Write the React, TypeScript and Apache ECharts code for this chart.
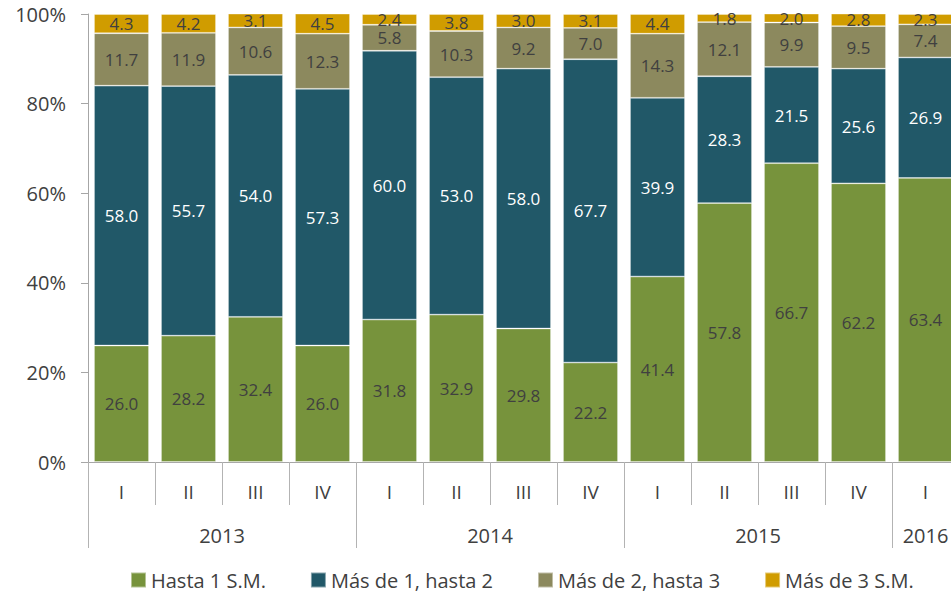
import React, { useEffect, useRef } from "react";
import * as echarts from "echarts";

const quarters = ["I", "II", "III", "IV", "I", "II", "III", "IV", "I", "II", "III", "IV", "I"];
const years = ["2013", "2014", "2015", "2016"];
const yearQuarterCounts = [4, 4, 4, 1];

const seriesNames = ["Hasta 1 S.M.", "Más de 1, hasta 2", "Más de 2, hasta 3", "Más de 3 S.M."];
const hasta1 = [26.0, 28.2, 32.4, 26.0, 31.8, 32.9, 29.8, 22.2, 41.4, 57.8, 66.7, 62.2, 63.4];
const mas1hasta2 = [58.0, 55.7, 54.0, 57.3, 60.0, 53.0, 58.0, 67.7, 39.9, 28.3, 21.5, 25.6, 26.9];
const mas2hasta3 = [11.7, 11.9, 10.6, 12.3, 5.8, 10.3, 9.2, 7.0, 14.3, 12.1, 9.9, 9.5, 7.4];
const mas3 = [4.3, 4.2, 3.1, 4.5, 2.4, 3.8, 3.0, 3.1, 4.4, 1.8, 2.0, 2.8, 2.3];

const yTicks = [0, 20, 40, 60, 80, 100];

const colors = ["#77933C", "#215868", "#8C895E", "#D09C00"];
const labelColors = ["#404040", "#ffffff", "#404040", "#404040"];
const FONT = "'Open Sans', sans-serif";

export default function App() {
  const ref = useRef<HTMLDivElement>(null);
  useEffect(() => {
    if (!ref.current) return;
    const chart = echarts.init(ref.current, undefined, { renderer: "svg" });
    const yearStarts: number[] = [];
    const yearCenters: number[] = [];
    let acc = 0;
    yearQuarterCounts.forEach((c) => {
      yearStarts.push(acc);
      yearCenters.push(acc + c / 2);
      acc += c;
    });
    const data = [hasta1, mas1hasta2, mas2hasta3, mas3];
    chart.setOption({
      animation: false,
      textStyle: { fontFamily: FONT },
      grid: { left: 88, right: 11, top: 14, bottom: 130, containLabel: false },
      legend: {
        data: seriesNames,
        left: 125,
        top: 565,
        icon: "rect",
        itemWidth: 15,
        itemHeight: 15,
        itemGap: 44,
        textStyle: { fontSize: 20, color: "#404040", fontFamily: FONT },
      },
      xAxis: [
        {
          type: "category",
          data: quarters,
          position: "bottom",
          axisLine: { show: true, lineStyle: { color: "#a6a6a6", width: 1 } },
          axisTick: { show: true, interval: 0, length: 43, lineStyle: { color: "#b3b3b3" } },
          axisLabel: { interval: 0, margin: 20, fontSize: 19, color: "#404040", fontFamily: FONT },
        },
        {
          type: "value",
          min: 0,
          max: quarters.length,
          position: "bottom",
          axisLine: { show: false },
          splitLine: { show: false },
          axisTick: {
            show: true,
            customValues: yearStarts,
            length: 86,
            lineStyle: { color: "#b3b3b3" },
          },
          axisLabel: {
            customValues: yearCenters,
            margin: 63,
            fontSize: 20,
            color: "#404040",
            fontFamily: FONT,
            formatter: (v: number) => {
              const i = yearCenters.findIndex((c) => Math.abs(c - v) < 1e-6);
              return i >= 0 ? years[i] : "";
            },
          },
        },
      ],
      yAxis: {
        type: "value",
        min: 0,
        max: 100,
        interval: 20,
        axisLine: { show: true, lineStyle: { color: "#a6a6a6" } },
        axisTick: { show: true, length: 7, lineStyle: { color: "#a6a6a6" } },
        splitLine: { show: false },
        axisLabel: {
          formatter: (v: number) => (yTicks.includes(v) ? v + "%" : ""),
          fontSize: 20,
          color: "#404040",
          margin: 22,
          fontFamily: FONT,
        },
      },
      series: data.map((d, i) => ({
        name: seriesNames[i],
        type: "bar",
        stack: "total",
        xAxisIndex: 0,
        barCategoryGap: "18%",
        data: d,
        itemStyle: { color: colors[i], borderColor: "rgba(255,255,255,0.45)", borderWidth: 0.8 },
        label: {
          show: true,
          position: "inside",
          formatter: (p: any) => Number(p.value).toFixed(1),
          fontSize: 17,
          color: labelColors[i],
          fontFamily: FONT,
        },
      })),
    });
    return () => chart.dispose();
  }, []);
  return (
    <div
      style={{
        position: "fixed",
        left: 0,
        top: 0,
        width: 951,
        height: 592,
        overflow: "hidden",
        background: "#ffffff",
      }}
    >
      <div ref={ref} style={{ width: 970, height: 592 }} />
    </div>
  );
}
